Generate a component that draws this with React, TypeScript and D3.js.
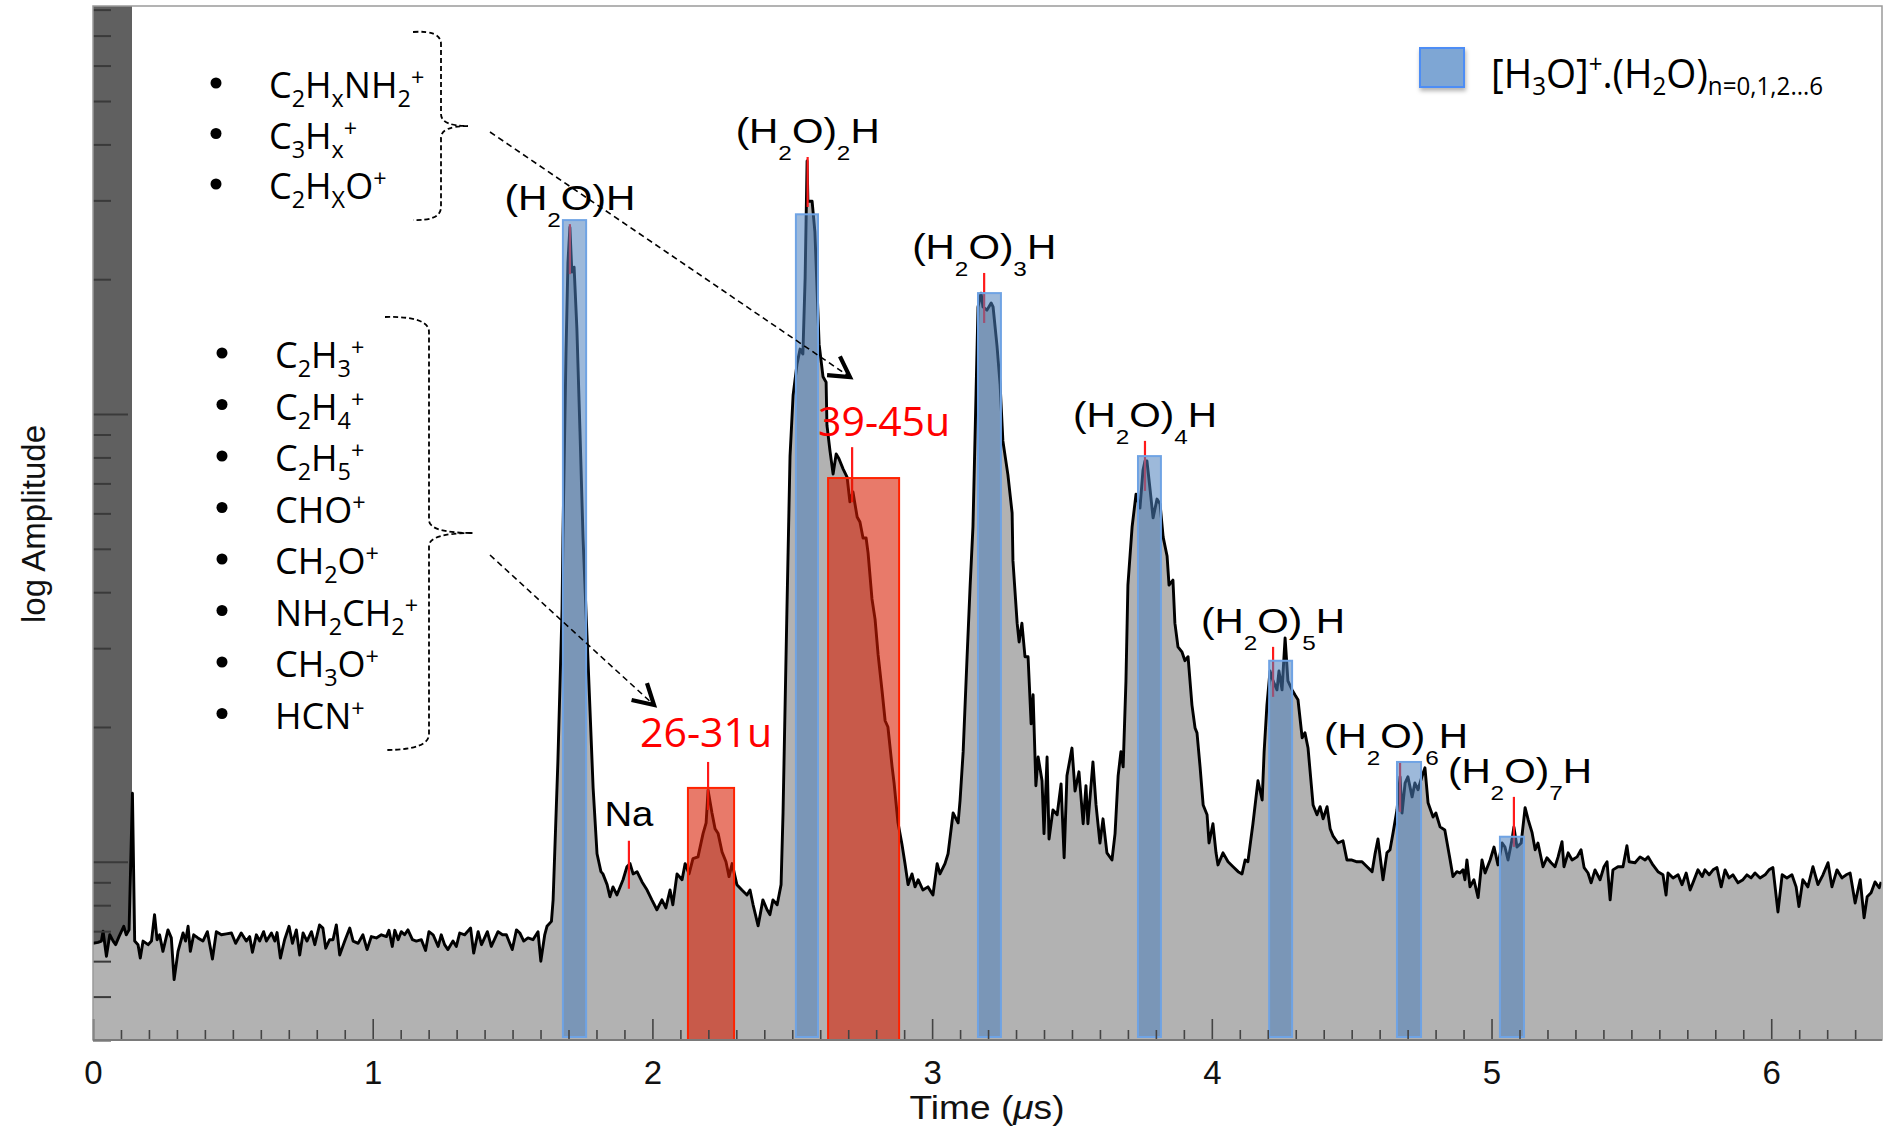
import React, { useEffect, useRef } from 'react'
import * as d3 from 'd3'

const W = 1889
const H = 1127

// time (µs), log10 amplitude
const trace: [number, number][] = [
  [0.000, -0.182], [0.018, -0.180], [0.030, -0.177], [0.036, -0.155], [0.048, -0.211], [0.060, -0.163], [0.072, -0.177], [0.081, -0.185],
  [0.093, -0.167], [0.110, -0.144], [0.119, -0.163], [0.129, -0.152], [0.141, 0.153], [0.149, -0.177], [0.161, -0.185], [0.169, -0.215],
  [0.179, -0.177], [0.197, -0.185], [0.209, -0.177], [0.220, -0.118], [0.229, -0.174], [0.238, -0.163], [0.250, -0.200], [0.268, -0.152],
  [0.280, -0.170], [0.290, -0.263], [0.304, -0.200], [0.322, -0.159], [0.331, -0.177], [0.340, -0.144], [0.348, -0.200], [0.360, -0.163],
  [0.375, -0.170], [0.393, -0.177], [0.409, -0.156], [0.427, -0.217], [0.441, -0.156], [0.459, -0.163], [0.477, -0.161], [0.495, -0.159],
  [0.510, -0.182], [0.530, -0.159], [0.548, -0.177], [0.560, -0.167], [0.570, -0.202], [0.584, -0.163], [0.596, -0.177], [0.610, -0.156],
  [0.620, -0.177], [0.638, -0.159], [0.650, -0.177], [0.658, -0.158], [0.670, -0.215], [0.685, -0.174], [0.701, -0.144], [0.713, -0.182],
  [0.727, -0.152], [0.739, -0.208], [0.751, -0.159], [0.765, -0.177], [0.781, -0.156], [0.793, -0.185], [0.810, -0.141], [0.822, -0.148],
  [0.832, -0.193], [0.846, -0.174], [0.858, -0.174], [0.870, -0.141], [0.882, -0.208], [0.900, -0.177], [0.918, -0.148], [0.930, -0.177],
  [0.948, -0.182], [0.965, -0.163], [0.980, -0.196], [0.995, -0.167], [1.013, -0.170], [1.031, -0.163], [1.049, -0.167], [1.058, -0.153],
  [1.070, -0.189], [1.079, -0.153], [1.091, -0.174], [1.102, -0.156], [1.114, -0.163], [1.126, -0.152], [1.142, -0.174], [1.156, -0.177],
  [1.174, -0.174], [1.189, -0.198], [1.201, -0.156], [1.216, -0.163], [1.234, -0.189], [1.245, -0.163], [1.257, -0.185], [1.269, -0.196],
  [1.287, -0.177], [1.299, -0.189], [1.311, -0.159], [1.329, -0.163], [1.350, -0.148], [1.361, -0.204], [1.377, -0.156], [1.389, -0.185],
  [1.410, -0.156], [1.424, -0.189], [1.448, -0.156], [1.464, -0.163], [1.478, -0.163], [1.499, -0.196], [1.514, -0.152], [1.526, -0.159],
  [1.540, -0.177], [1.555, -0.170], [1.573, -0.174], [1.591, -0.156], [1.601, -0.222], [1.615, -0.163], [1.623, -0.144], [1.639, -0.133],
  [1.645, -0.085], [1.662, 0.223], [1.677, 0.565], [1.680, 0.723], [1.691, 1.134], [1.698, 1.339], [1.705, 1.417], [1.712, 1.317],
  [1.720, 1.328], [1.730, 1.190], [1.741, 0.962], [1.752, 0.723], [1.766, 0.507], [1.777, 0.337], [1.788, 0.165], [1.802, 0.018],
  [1.816, -0.022], [1.823, -0.027], [1.838, -0.051], [1.848, -0.078], [1.859, -0.056], [1.873, -0.074], [1.895, -0.040], [1.909, -0.011],
  [1.920, -0.004], [1.931, -0.027], [1.945, -0.022], [1.963, -0.045], [1.981, -0.063], [1.998, -0.085], [2.016, -0.107], [2.034, -0.085],
  [2.048, -0.103], [2.063, -0.063], [2.073, -0.096], [2.088, -0.027], [2.106, -0.040], [2.117, -0.004], [2.131, -0.027], [2.145, 0.007],
  [2.163, 0.011], [2.181, 0.063], [2.192, 0.087], [2.199, 0.160], [2.213, 0.109], [2.224, 0.074], [2.235, 0.063], [2.249, 0.022],
  [2.263, 0.000], [2.274, -0.033], [2.285, -0.004], [2.302, -0.051], [2.320, -0.063], [2.338, -0.074], [2.349, -0.063], [2.360, -0.096],
  [2.378, -0.143], [2.395, -0.085], [2.410, -0.107], [2.420, -0.118], [2.431, -0.085], [2.446, -0.096], [2.460, -0.051], [2.467, 0.109],
  [2.481, 0.565], [2.492, 0.906], [2.503, 1.042], [2.517, 1.112], [2.528, 1.145], [2.538, 1.134], [2.546, 1.304], [2.553, 1.565],
  [2.556, 1.475], [2.571, 1.475], [2.581, 1.406], [2.596, 1.156], [2.610, 1.083], [2.621, 1.071], [2.624, 0.975], [2.635, 0.917],
  [2.646, 0.866], [2.657, 0.911], [2.667, 0.900], [2.682, 0.877], [2.696, 0.859], [2.706, 0.804], [2.717, 0.826], [2.732, 0.770],
  [2.742, 0.759], [2.753, 0.723], [2.764, 0.723], [2.771, 0.690], [2.785, 0.587], [2.796, 0.542], [2.807, 0.462], [2.821, 0.382],
  [2.832, 0.315], [2.842, 0.301], [2.857, 0.212], [2.864, 0.176], [2.878, 0.087], [2.892, 0.040], [2.903, -0.004], [2.914, -0.051],
  [2.928, -0.027], [2.939, -0.056], [2.950, -0.040], [2.967, -0.063], [2.985, -0.056], [3.003, -0.074], [3.018, -0.004], [3.028, -0.027],
  [3.046, -0.004], [3.057, 0.018], [3.075, 0.109], [3.093, 0.087], [3.100, 0.138], [3.111, 0.246], [3.125, 0.458], [3.136, 0.618],
  [3.146, 0.748], [3.157, 1.045], [3.164, 1.239], [3.175, 1.270], [3.182, 1.239], [3.196, 1.232], [3.211, 1.248], [3.218, 1.239],
  [3.232, 1.152], [3.243, 1.067], [3.253, 0.940], [3.271, 0.864], [3.286, 0.779], [3.289, 0.672], [3.304, 0.533], [3.311, 0.491],
  [3.321, 0.533], [3.332, 0.458], [3.343, 0.458], [3.354, 0.308], [3.361, 0.373], [3.371, 0.170], [3.379, 0.234], [3.393, 0.181],
  [3.400, 0.063], [3.411, 0.234], [3.418, 0.051], [3.432, 0.116], [3.447, 0.105], [3.461, 0.174], [3.472, 0.009], [3.482, 0.192],
  [3.500, 0.254], [3.511, 0.158], [3.525, 0.201], [3.540, 0.085], [3.550, 0.170], [3.557, 0.085], [3.575, 0.223], [3.586, 0.127],
  [3.600, 0.042], [3.611, 0.096], [3.625, 0.020], [3.643, 0.004], [3.654, 0.063], [3.665, 0.192], [3.675, 0.246], [3.683, 0.212],
  [3.693, 0.404], [3.700, 0.618], [3.715, 0.748], [3.729, 0.821], [3.743, 0.790], [3.754, 0.875], [3.761, 0.895], [3.768, 0.895],
  [3.779, 0.833], [3.790, 0.768], [3.804, 0.810], [3.815, 0.799], [3.826, 0.725], [3.840, 0.683], [3.847, 0.618], [3.861, 0.629],
  [3.868, 0.533], [3.879, 0.480], [3.893, 0.469], [3.904, 0.449], [3.915, 0.458], [3.929, 0.350], [3.940, 0.299], [3.947, 0.288],
  [3.958, 0.212], [3.969, 0.127], [3.983, 0.105], [3.990, 0.042], [4.004, 0.085], [4.015, 0.020], [4.022, -0.007], [4.040, 0.020],
  [4.058, 0.000], [4.076, -0.011], [4.094, -0.022], [4.108, -0.027], [4.119, 0.004], [4.129, 0.000], [4.147, 0.085], [4.165, 0.181],
  [4.180, 0.138], [4.187, 0.246], [4.197, 0.350], [4.208, 0.426], [4.219, 0.404], [4.233, 0.384], [4.240, 0.426], [4.251, 0.384],
  [4.262, 0.500], [4.272, 0.404], [4.287, 0.384], [4.297, 0.373], [4.308, 0.362], [4.323, 0.277], [4.333, 0.288], [4.344, 0.254],
  [4.362, 0.127], [4.376, 0.105], [4.387, 0.123], [4.398, 0.096], [4.412, 0.123], [4.423, 0.074], [4.433, 0.058], [4.451, 0.042],
  [4.469, 0.047], [4.483, 0.004], [4.501, 0.004], [4.519, 0.000], [4.537, 0.000], [4.555, -0.011], [4.573, -0.022], [4.583, 0.016],
  [4.594, 0.051], [4.612, -0.040], [4.626, 0.020], [4.637, 0.027], [4.648, 0.065], [4.662, 0.116], [4.673, 0.190], [4.680, 0.109],
  [4.691, 0.176], [4.701, 0.190], [4.716, 0.145], [4.726, 0.176], [4.737, 0.161], [4.751, 0.190], [4.762, 0.210], [4.773, 0.132],
  [4.791, 0.100], [4.801, 0.109], [4.816, 0.078], [4.833, 0.071], [4.852, 0.004], [4.862, -0.033], [4.876, -0.022], [4.887, -0.025],
  [4.898, -0.018], [4.905, -0.040], [4.912, 0.004], [4.923, -0.056], [4.937, -0.040], [4.952, -0.080], [4.966, 0.004], [4.977, -0.025],
  [4.995, 0.004], [5.009, 0.033], [5.023, -0.007], [5.038, 0.042], [5.048, 0.033], [5.059, 0.004], [5.073, 0.049], [5.080, 0.078],
  [5.091, 0.033], [5.106, 0.042], [5.120, 0.121], [5.131, 0.094], [5.145, 0.065], [5.156, 0.027], [5.166, 0.042], [5.184, -0.011],
  [5.198, 0.009], [5.213, -0.002], [5.227, -0.011], [5.238, 0.011], [5.252, 0.045], [5.259, -0.011], [5.274, 0.020], [5.288, 0.004],
  [5.306, 0.011], [5.320, 0.027], [5.331, -0.013], [5.345, -0.025], [5.356, -0.047], [5.370, -0.018], [5.388, -0.040], [5.402, -0.011],
  [5.413, 0.000], [5.424, -0.085], [5.434, -0.018], [5.452, -0.011], [5.470, -0.011], [5.484, 0.036], [5.492, 0.000], [5.513, -0.002],
  [5.531, 0.011], [5.549, 0.004], [5.560, 0.011], [5.577, -0.007], [5.595, -0.022], [5.613, -0.029], [5.624, -0.074], [5.631, -0.025],
  [5.649, -0.036], [5.667, -0.029], [5.681, -0.051], [5.696, -0.025], [5.710, -0.063], [5.720, -0.047], [5.738, -0.018], [5.753, -0.033],
  [5.763, -0.018], [5.778, -0.029], [5.792, -0.018], [5.806, -0.013], [5.821, -0.056], [5.835, -0.018], [5.849, -0.036], [5.863, -0.029],
  [5.881, -0.047], [5.899, -0.040], [5.913, -0.029], [5.928, -0.036], [5.942, -0.025], [5.960, -0.036], [5.978, -0.029], [5.992, -0.018],
  [6.006, -0.013], [6.024, -0.112], [6.039, -0.029], [6.056, -0.036], [6.074, -0.029], [6.089, -0.056], [6.099, -0.100], [6.113, -0.040],
  [6.131, -0.056], [6.149, -0.011], [6.167, -0.051], [6.185, -0.029], [6.203, -0.002], [6.217, -0.056], [6.235, -0.018], [6.253, -0.036],
  [6.268, -0.029], [6.282, -0.025], [6.300, -0.092], [6.318, -0.040], [6.332, -0.125], [6.343, -0.078], [6.357, -0.069], [6.371, -0.045],
  [6.386, -0.058], [6.393, -0.045],
]

// [H3O]+.(H2O)n gates
const waterStart = [1.680, 2.513, 3.164, 3.736, 4.205, 4.662, 5.030]
const waterEnd = [1.763, 2.592, 3.246, 3.818, 4.287, 4.748, 5.116]
const waterTop = [1.433, 1.446, 1.270, 0.906, 0.449, 0.223, 0.056]

// organic fragment gates
const fragStart = [2.127, 2.628]
const fragEnd = [2.292, 2.882]
const fragTop = [0.165, 0.857]

// cluster peak markers
const clusterN = ['', '2', '3', '4', '5', '6', '7']
const clusterPeak = [1.705, 2.555, 3.186, 3.761, 4.219, 4.673, 5.080]
const clusterTickTop = [1.424, 1.574, 1.315, 0.940, 0.480, 0.223, 0.145]

// other markers
const markLabels = ['Na', '26-31u', '39-45u']
const markPeak = [1.916, 2.199, 2.714]
const markTickTop = [0.047, 0.223, 0.926]

const timeTicks = [0, 1, 2, 3, 4, 5, 6]

type Part = [string, 'n' | 'sub' | 'sup']
const heavyIons: Part[][] = [
  [['C', 'n'], ['2', 'sub'], ['H', 'n'], ['x', 'sub'], ['NH', 'n'], ['2', 'sub'], ['+', 'sup']],
  [['C', 'n'], ['3', 'sub'], ['H', 'n'], ['x', 'sub'], ['+', 'sup']],
  [['C', 'n'], ['2', 'sub'], ['H', 'n'], ['X', 'sub'], ['O', 'n'], ['+', 'sup']],
]
const lightIons: Part[][] = [
  [['C', 'n'], ['2', 'sub'], ['H', 'n'], ['3', 'sub'], ['+', 'sup']],
  [['C', 'n'], ['2', 'sub'], ['H', 'n'], ['4', 'sub'], ['+', 'sup']],
  [['C', 'n'], ['2', 'sub'], ['H', 'n'], ['5', 'sub'], ['+', 'sup']],
  [['CHO', 'n'], ['+', 'sup']],
  [['CH', 'n'], ['2', 'sub'], ['O', 'n'], ['+', 'sup']],
  [['NH', 'n'], ['2', 'sub'], ['CH', 'n'], ['2', 'sub'], ['+', 'sup']],
  [['CH', 'n'], ['3', 'sub'], ['O', 'n'], ['+', 'sup']],
  [['HCN', 'n'], ['+', 'sup']],
]
const legendText: Part[] = [
  ['[H', 'n'], ['3', 'sub'], ['O]', 'n'], ['+', 'sup'], ['.(H', 'n'], ['2', 'sub'], ['O)', 'n'], ['n=0,1,2…6', 'sub'],
]

const HELV = 'Liberation Sans, Arial, Helvetica, sans-serif'
const OPEN = 'Open Sans, Noto Sans, sans-serif'

function richText (parent: any, parts: Part[], o: any) {
  const t = parent.append('text')
    .attr('x', o.x).attr('y', o.y)
    .attr('font-family', o.family)
    .attr('font-size', o.size)
    .attr('fill', o.fill || '#000')
    .attr('text-anchor', o.anchor || 'start')
  let cur = 0
  parts.forEach(([s, k]) => {
    if (!s) return
    const off = k === 'sub' ? o.subDy : k === 'sup' ? o.supDy : 0
    t.append('tspan')
      .attr('dy', off - cur)
      .attr('font-size', k === 'n' ? o.size : o.subSize)
      .text(s)
    cur = off
  })
  if (o.textLength) t.attr('textLength', o.textLength).attr('lengthAdjust', 'spacingAndGlyphs')
  return t
}

function dashedArrow (g: any, x1: number, y1: number, x2: number, y2: number) {
  g.append('line')
    .attr('x1', x1).attr('y1', y1).attr('x2', x2).attr('y2', y2)
    .attr('stroke', '#000').attr('stroke-width', 1.6).attr('stroke-dasharray', '6,4')
  const a = Math.atan2(y2 - y1, x2 - x1)
  const L = 23
  const s = 0.52
  g.append('path')
    .attr('d', `M${x2 - L * Math.cos(a - s)},${y2 - L * Math.sin(a - s)}L${x2},${y2}L${x2 - L * Math.cos(a + s)},${y2 - L * Math.sin(a + s)}`)
    .attr('fill', 'none').attr('stroke', '#000').attr('stroke-width', 4.2).attr('stroke-linejoin', 'miter')
}

function drawChart (svgEl: SVGSVGElement) {
  const svg = d3.select(svgEl)
  svg.selectAll('*').remove()

  const left = 93
  const right = 1882
  const top = 6
  const bottom = 1040

  const x = d3.scaleLinear().domain([0, 6.396]).range([left, right])
  const y = d3.scaleLinear().domain([Math.log10(0.4), Math.log10(81.5)]).range([bottom, top])

  const defs = svg.append('defs')
  defs.append('clipPath').attr('id', 'plotClip')
    .append('rect').attr('x', left).attr('y', top).attr('width', right - left).attr('height', bottom - top)
  const sh = defs.append('filter').attr('id', 'shadow').attr('x', '-20%').attr('y', '-20%').attr('width', '150%').attr('height', '150%')
  sh.append('feDropShadow').attr('dx', 1).attr('dy', 3).attr('stdDeviation', 2).attr('flood-color', '#000').attr('flood-opacity', 0.3)

  svg.append('rect').attr('width', W).attr('height', H).attr('fill', '#fff')

  const plot = svg.append('g').attr('clip-path', 'url(#plotClip)')

  // dark band at the left of the frame
  plot.append('rect').attr('x', left).attr('y', top).attr('width', 39).attr('height', bottom - top).attr('fill', '#606060')

  const area = d3.area<[number, number]>().x(d => x(d[0])).y0(bottom).y1(d => y(d[1]))
  const line = d3.line<[number, number]>().x(d => x(d[0])).y(d => y(d[1]))

  plot.append('path').datum(trace).attr('d', area).attr('fill', '#b2b2b2')
  plot.append('path').datum(trace).attr('d', line)
    .attr('fill', 'none').attr('stroke', '#000').attr('stroke-width', 2.9).attr('stroke-linejoin', 'round')

  // red peak markers
  const tickLen = 50
  clusterPeak.forEach((t, i) => {
    plot.append('line').attr('x1', x(t)).attr('x2', x(t))
      .attr('y1', y(clusterTickTop[i])).attr('y2', y(clusterTickTop[i]) + tickLen)
      .attr('stroke', '#ff1a1a').attr('stroke-width', 2.2)
  })
  markPeak.forEach((t, i) => {
    plot.append('line').attr('x1', x(t)).attr('x2', x(t))
      .attr('y1', y(markTickTop[i])).attr('y2', y(markTickTop[i]) + (i === 2 ? 55 : 48))
      .attr('stroke', '#ff1a1a').attr('stroke-width', 2.2)
  })

  // gates
  fragStart.forEach((s, i) => {
    plot.append('rect')
      .attr('x', x(s)).attr('y', y(fragTop[i]))
      .attr('width', x(fragEnd[i]) - x(s)).attr('height', bottom - y(fragTop[i]))
      .attr('fill', 'rgb(215,27,0)').attr('fill-opacity', 0.585)
      .attr('stroke', '#ff2200').attr('stroke-width', 2)
  })
  waterStart.forEach((s, i) => {
    plot.append('rect')
      .attr('x', x(s)).attr('y', y(waterTop[i]))
      .attr('width', x(waterEnd[i]) - x(s)).attr('height', bottom - y(waterTop[i]) - 3)
      .attr('fill', '#4d80bb').attr('fill-opacity', 0.55)
      .attr('stroke', '#6fa3e4').attr('stroke-width', 2)
  })

  // y axis: log decades, ticks pointing inward
  const [d0, d1] = y.domain()
  const minor: number[] = []
  const major: number[] = []
  for (let n = -1; n <= 1; n++) {
    for (let k = 1; k <= 9; k++) {
      const v = n + Math.log10(k)
      if (v < d0 - 1e-6 || v > d1) continue
      if (k === 1) major.push(v)
      else minor.push(v)
    }
  }
  const yMinor = svg.append('g').attr('transform', `translate(${left},0)`)
    .call(d3.axisRight(y).tickValues(minor).tickSize(18).tickFormat(() => ''))
  const yMajor = svg.append('g').attr('transform', `translate(${left},0)`)
    .call(d3.axisRight(y).tickValues(major).tickSize(35).tickFormat(() => ''))
  ;[yMinor, yMajor].forEach(g => {
    g.select('.domain').remove()
    g.selectAll('line').attr('stroke', '#3a3a3a').attr('stroke-width', 2)
  })

  // x axis ticks pointing up
  const tenths = d3.range(0, 64).map(i => i / 10)
  const xMinor = svg.append('g').attr('transform', `translate(0,${bottom})`)
    .call(d3.axisTop(x).tickValues(tenths.filter((_, i) => i % 10 !== 0)).tickSize(10).tickFormat(() => ''))
  const xMajor = svg.append('g').attr('transform', `translate(0,${bottom})`)
    .call(d3.axisTop(x).tickValues(timeTicks).tickSize(21).tickFormat(() => ''))
  ;[xMinor, xMajor].forEach(g => {
    g.select('.domain').remove()
    g.selectAll('line').attr('stroke', '#444').attr('stroke-width', 1.6)
  })
  const xLab = svg.append('g').attr('transform', `translate(0,${bottom})`)
    .call(d3.axisBottom(x).tickValues(timeTicks).tickSize(0).tickPadding(21).tickFormat(d3.format('d')))
  xLab.select('.domain').remove()
  xLab.selectAll('text').attr('font-family', HELV).attr('font-size', 33).attr('fill', '#111')

  // frame
  svg.append('rect').attr('x', left).attr('y', top).attr('width', right - left).attr('height', bottom - top)
    .attr('fill', 'none').attr('stroke', '#9a9a9a').attr('stroke-width', 1.5)
  svg.append('line').attr('x1', left).attr('x2', right).attr('y1', bottom).attr('y2', bottom)
    .attr('stroke', '#7a7a7a').attr('stroke-width', 2)

  // axis titles
  svg.append('text').attr('transform', 'translate(45,524) rotate(-90)')
    .attr('text-anchor', 'middle').attr('font-family', HELV).attr('font-size', 34).attr('fill', '#111')
    .attr('textLength', 198).attr('lengthAdjust', 'spacingAndGlyphs')
    .text('log Amplitude')
  const tt = svg.append('text').attr('x', 987).attr('y', 1119).attr('text-anchor', 'middle')
    .attr('font-family', HELV).attr('font-size', 33).attr('fill', '#111')
    .attr('textLength', 155).attr('lengthAdjust', 'spacingAndGlyphs')
  tt.append('tspan').text('Time (')
  tt.append('tspan').attr('font-style', 'italic').text('μ')
  tt.append('tspan').text('s)')

  // cluster labels (the last two sit tight against each other, as in the original)
  const labelDx = [0, 0, 0, 0, 0, -4, 6]
  clusterN.forEach((n, i) => {
    const parts: Part[] = [['(H', 'n'], ['2', 'sub'], ['O)', 'n'], [n, 'sub'], ['H', 'n']]
    richText(svg, parts, {
      x: x(clusterPeak[i]) + labelDx[i], y: y(clusterTickTop[i]) - 14, family: HELV, size: 35, subSize: 21, subDy: 17, supDy: 0,
      anchor: 'middle', textLength: n ? 144 : 131, fill: '#000',
    })
  })

  // marker labels
  svg.append('text').attr('x', x(markPeak[0])).attr('y', y(markTickTop[0]) - 15).attr('text-anchor', 'middle')
    .attr('font-family', HELV).attr('font-size', 35).attr('textLength', 49).attr('lengthAdjust', 'spacingAndGlyphs')
    .text(markLabels[0])
  svg.append('text').attr('x', x(markPeak[1]) - 2).attr('y', y(markTickTop[1]) - 15).attr('text-anchor', 'middle')
    .attr('font-family', OPEN).attr('font-size', 41).attr('fill', '#ff0000').text(markLabels[1])
  svg.append('text').attr('x', x(markPeak[2]) + 32).attr('y', y(markTickTop[2]) - 11).attr('text-anchor', 'middle')
    .attr('font-family', OPEN).attr('font-size', 41).attr('fill', '#ff0000').text(markLabels[2])

  // ion lists
  const lists = svg.append('g')
  heavyIons.forEach((p, i) => {
    const by = 98 + i * 50.5
    lists.append('circle').attr('cx', 216).attr('cy', by - 15).attr('r', 5.5).attr('fill', '#000')
    richText(lists, p, { x: 269, y: by, family: OPEN, size: 36, subSize: 23.4, subDy: 9, supDy: -12 })
  })
  lightIons.forEach((p, i) => {
    const by = 368 + i * 51.5
    lists.append('circle').attr('cx', 222).attr('cy', by - 15).attr('r', 5.5).attr('fill', '#000')
    richText(lists, p, { x: 275, y: by, family: OPEN, size: 36, subSize: 23.4, subDy: 9, supDy: -12 })
  })

  // braces
  const brace = (d: string) => lists.append('path').attr('d', d).attr('fill', 'none')
    .attr('stroke', '#000').attr('stroke-width', 1.8).attr('stroke-dasharray', '5,3')
  brace('M413,32 Q441,30 441,44 L441,114 Q441,126 468,126 Q441,126 441,138 L441,207 Q441,221 413,220')
  brace('M385,317 Q429,316 429,332 L429,520 Q429,533 473,533 Q429,533 429,546 L429,734 Q429,750 385,750')

  dashedArrow(lists, 490, 132, 850, 377)
  dashedArrow(lists, 490, 555, 654, 705)

  // legend
  svg.append('rect').attr('x', 1420).attr('y', 48).attr('width', 44).attr('height', 39)
    .attr('fill', '#7ea6d4').attr('stroke', '#4d8df5').attr('stroke-width', 2).attr('filter', 'url(#shadow)')
  richText(svg, legendText, { x: 1491, y: 88, family: OPEN, size: 40, subSize: 25, subDy: 7, supDy: -15, textLength: 332 })
}

const App = () => {
  const svgRef = useRef<SVGSVGElement>(null)

  useEffect(() => {
    if (svgRef.current) drawChart(svgRef.current)
  }, [])

  return (
    <svg ref={svgRef} width={W} height={H} style={{ position: 'absolute', left: 0, top: 0, background: '#fff' }} />
  )
}

export default App
